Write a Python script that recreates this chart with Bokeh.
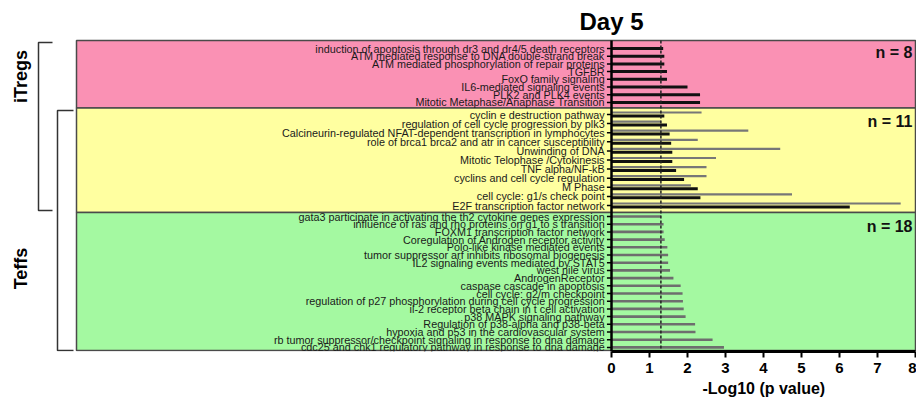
from bokeh.plotting import figure
from bokeh.models import Range1d, FixedTicker, Title
from bokeh.core.properties import value
from bokeh.embed import file_html
from bokeh.resources import INLINE
import math

# ---------------- data ----------------
title_text = "Day 5"
x_label = "-Log10 (p value)"
x_ticks = [0, 1, 2, 3, 4, 5, 6, 7, 8]
threshold = 1.3

itreg_terms = [
    "induction of apoptosis through dr3 and dr4/5 death receptors",
    "ATM mediated response to DNA double-strand break",
    "ATM mediated phosphorylation of repair proteins",
    "TGFBR",
    "FoxO family signaling",
    "IL6-mediated signaling events",
    "PLK2 and PLK4 events",
    "Mitotic Metaphase/Anaphase Transition",
]
itreg_vals = [1.36, 1.39, 1.39, 1.46, 1.46, 2.00, 2.33, 2.33]

shared_terms = [
    "cyclin e destruction pathway",
    "regulation of cell cycle progression by plk3",
    "Calcineurin-regulated NFAT-dependent transcription in lymphocytes",
    "role of brca1 brca2 and atr in cancer susceptibility",
    "Unwinding of DNA",
    "Mitotic Telophase /Cytokinesis",
    "TNF alpha/NF-kB",
    "cyclins and cell cycle regulation",
    "M Phase",
    "cell cycle: g1/s check point",
    "E2F transcription factor network",
]
shared_itreg_vals = [1.39, 1.46, 1.53, 1.57, 1.60, 1.60, 1.70, 1.91, 2.27, 2.34, 6.27]
shared_teff_vals = [2.37, 1.30, 3.60, 2.27, 4.44, 2.75, 2.50, 2.50, 2.09, 4.75, 7.61]

teff_terms = [
    "gata3 participate in activating the th2 cytokine genes expression",
    "influence of ras and rho proteins on g1 to s transition",
    "FOXM1 transcription factor network",
    "Coregulation of Androgen receptor activity",
    "Polo-like kinase mediated events",
    "tumor suppressor arf inhibits ribosomal biogenesis",
    "IL2 signaling events mediated by STAT5",
    "west nile virus",
    "AndrogenReceptor",
    "caspase cascade in apoptosis",
    "cell cycle: g2/m checkpoint",
    "regulation of p27 phosphorylation during cell cycle progression",
    "il-2 receptor beta chain in t cell activation",
    "p38 MAPK signaling pathway",
    "Regulation of p38-alpha and p38-beta",
    "hypoxia and p53 in the cardiovascular system",
    "rb tumor suppressor/checkpoint signaling in response to dna damage",
    "cdc25 and chk1 regulatory pathway in response to dna damage",
]
teff_vals = [1.30, 1.37, 1.37, 1.40, 1.47, 1.49, 1.49, 1.54, 1.63, 1.82,
             1.87, 1.88, 1.90, 1.95, 2.20, 2.21, 2.66, 2.96]

group_labels = ["iTregs", "Teffs"]

# ---------------- layout ----------------
W, H = 916, 405
PX_PER_UNIT = 38.0
ZERO_PX = 611.0          # page x of value 0
FRAME_BOTTOM = 351.0     # page y of frame bottom


def px(xpage):
    return (xpage - ZERO_PX) / PX_PER_UNIT


x_start = px(0)
x_end = px(W)

p = figure(width=W, height=H, output_backend="svg", toolbar_location=None,
           x_range=Range1d(x_start, x_end), y_range=Range1d(FRAME_BOTTOM, 0),
           min_border_left=0, min_border_right=0, min_border_top=0,
           min_border_bottom=int(H - FRAME_BOTTOM))
p.outline_line_color = None
p.grid.visible = False
p.yaxis.visible = False
p.background_fill_color = "white"

# band geometry
pink_top, pink_bot = 40.0, 107.5
yel_bot, grn_bot = 212.0, 350.0
box_left, box_right = px(76), px(915)

p.quad(left=[box_left] * 3, right=[box_right] * 3,
       top=[pink_top, pink_bot, yel_bot], bottom=[pink_bot, yel_bot, grn_bot],
       fill_color=["#FA91B4", "#FFFFA0", "#A4F9A1"],
       line_color="#4a4a4a", line_width=1.5)

# row positions
pink_y = [48.0 + i * 7.7 for i in range(len(itreg_terms))]
yel_y = [114.0 + i * 9.1 for i in range(len(shared_terms))]
grn_y = [216.0 + i * 7.7 for i in range(len(teff_terms))]

# bars
p.hbar(y=pink_y, left=0, right=itreg_vals, height=3.0, fill_color="#111111", line_color=None)
p.hbar(y=[y - 2.0 for y in yel_y], left=0, right=shared_teff_vals, height=2.2,
       fill_color="#777777", line_color=None)
p.hbar(y=[y + 1.4 for y in yel_y], left=0, right=shared_itreg_vals, height=3.0,
       fill_color="#111111", line_color=None)
p.hbar(y=grn_y, left=0, right=teff_vals, height=2.6, fill_color="#6e6e6e", line_color=None)

# threshold dashed line and y-axis line
p.segment(x0=[threshold], x1=[threshold], y0=[pink_top], y1=[FRAME_BOTTOM],
          line_color="#222222", line_width=1.5, line_dash="3 2")
p.segment(x0=[0], x1=[0], y0=[pink_top], y1=[FRAME_BOTTOM],
          line_color="#000000", line_width=2.5)

all_y = pink_y + yel_y + grn_y
all_terms = itreg_terms + shared_terms + teff_terms
p.segment(x0=[-0.12] * len(all_y), x1=[0] * len(all_y), y0=all_y, y1=all_y,
          line_color="#000000", line_width=1.5)

p.text(x=[-0.18] * len(all_y), y=all_y, text=all_terms,
       text_font=value("Liberation Sans"), text_font_size="10.8px",
       text_align="right", text_baseline="middle", text_color="#1a1a1a")

# n labels
p.text(x=[px(912)] * 3, y=[52.0, 121.0, 226.0],
       text=["n = %d" % len(itreg_terms), "n = %d" % len(shared_terms), "n = %d" % len(teff_terms)],
       text_font=value("Liberation Sans"), text_font_size="16px", text_font_style="bold",
       text_align="right", text_baseline="middle", text_color="#111111")

# title
p.text(x=[px(611)], y=[21.0], text=[title_text], text_font=value("Liberation Sans"),
       text_font_size="24px", text_font_style="bold", text_align="center",
       text_baseline="middle", text_color="#000000")

# group brackets
br_col = "#333333"
ix0, ix1 = px(38), px(52)
tx0, tx1 = px(57), px(73)
p.multi_line(xs=[[ix1, ix0, ix0, ix1], [tx1, tx0, tx0, tx1]],
             ys=[[42.0, 42.0, 210.0, 210.0], [110.0, 110.0, 350.0, 350.0]],
             line_color=br_col, line_width=1.5)
p.text(x=[px(20), px(20)], y=[76.0, 268.0], text=group_labels,
       text_font=value("Liberation Sans"), text_font_size="18px", text_font_style="bold",
       text_align="center", text_baseline="middle", angle=math.pi / 2, text_color="#000000")

# x axis
ax = p.xaxis[0]
ax.bounds = (x_ticks[0], x_ticks[-1])
ax.ticker = FixedTicker(ticks=x_ticks)
ax.axis_line_width = 3
ax.axis_line_color = "#000000"
ax.major_tick_line_width = 2
ax.major_tick_out = 6
ax.major_tick_in = 0
ax.minor_tick_line_color = None
ax.major_label_text_font = "Liberation Sans"
ax.major_label_text_font_style = "bold"
ax.major_label_text_font_size = "15px"
ax.major_label_text_color = "#000000"
ax.major_label_standoff = 5

# axis label centred under the 0..8 span (bold 16px text is about 123px wide)
label_center_px = ZERO_PX + PX_PER_UNIT * (x_ticks[0] + x_ticks[-1]) / 2.0
label_half_width = 61
p.add_layout(Title(text=x_label, align="left", offset=label_center_px - label_half_width,
                   text_font="Liberation Sans", text_font_style="bold",
                   text_font_size="16px", text_color="#000000", standoff=4), "below")

open("out.html", "w").write(file_html(p, INLINE))
